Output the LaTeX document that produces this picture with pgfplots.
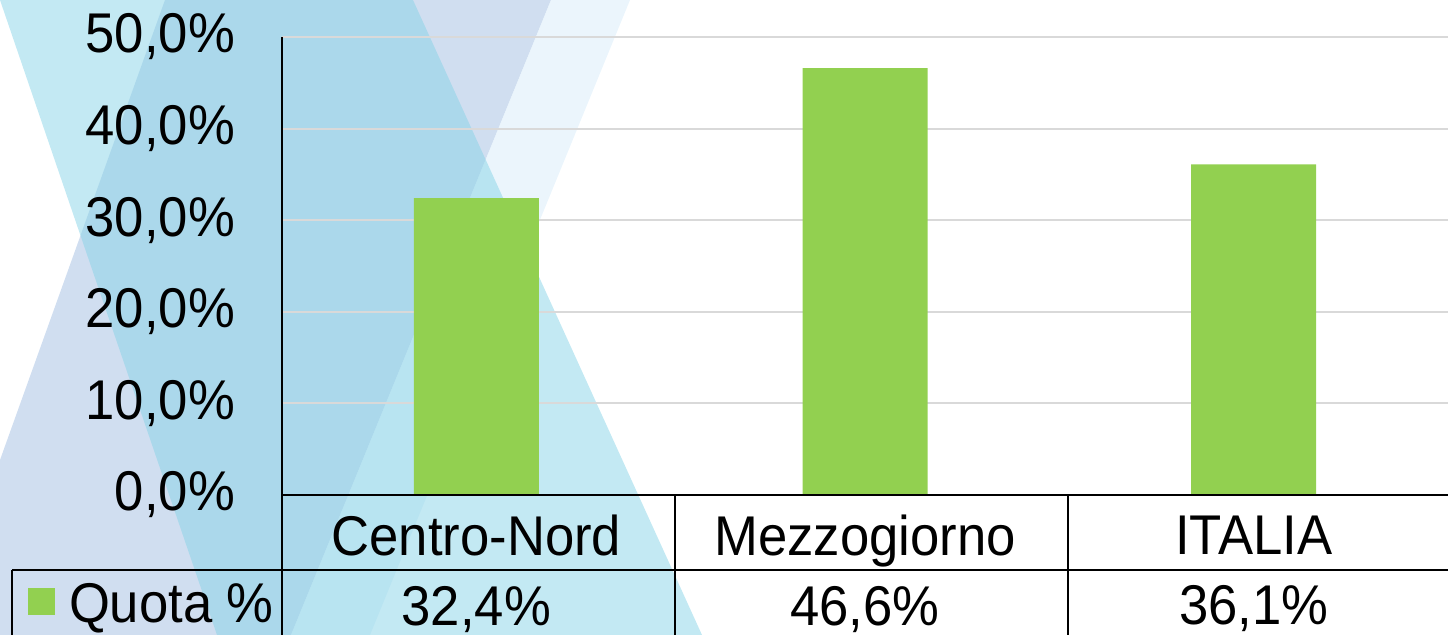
\documentclass[border=0pt]{standalone}
\usepackage{pgfplots}
\pgfplotsset{compat=1.18}
\usepackage{fontspec}
\setmainfont[FakeStretch=0.94]{Liberation Sans}
\definecolor{bargreen}{RGB}{146,208,80}
\definecolor{bandA}{RGB}{177,200,230}
\definecolor{bandB}{RGB}{135,211,231}
\definecolor{bandC}{RGB}{226,241,251}
\definecolor{gridgray}{RGB}{217,217,217}
\begin{document}
\begin{tikzpicture}
\useasboundingbox (0,0) rectangle (724pt,317.5pt);
% decorative background (pixel coordinates, y downwards)
\begin{scope}[x=0.5pt,y=-0.5pt,shift={(0pt,317.5pt)}]
  \fill[bandA,opacity=0.6] (165,0) -- (551,0) -- (291,635) -- (0,635) -- (0,460) -- cycle;
  \fill[bandC,opacity=0.7] (551,0) -- (630,0) -- (370,635) -- (291,635) -- cycle;
  \fill[bandB,opacity=0.5] (0,0) -- (413,0) -- (702,635) -- (217,635) -- cycle;
\end{scope}
\begin{axis}[
  at={(141pt,70pt)}, anchor=south west,
  scale only axis, width=583pt, height=229pt,
  xmin=-0.5, xmax=2.5, ymin=0, ymax=50,
  axis line style={draw=none},
  tick style={draw=none},
  ymajorgrids, grid style={gridgray, line width=1pt},
  ytick={0,10,20,30,40,50},
  yticklabels={{0,0\%},{10,0\%},{20,0\%},{30,0\%},{40,0\%},{50,0\%}},
  yticklabel style={font=\fontsize{28}{32}\selectfont, anchor=east, xshift=-20pt},
  xtick={0,1,2},
  xticklabels={{Centro-Nord\\32,4\%},{Mezzogiorno\\46,6\%},{ITALIA\\36,1\%}},
  xticklabel style={font=\fontsize{28}{35}\selectfont, align=center, anchor=center, yshift=-35pt},
  ybar, bar width=62.5pt,
]
\addplot[fill=bargreen, draw=none] coordinates {(0,32.4) (1,46.6) (2,36.1)};
\end{axis}
% data table lines and legend key
\begin{scope}[x=0.5pt,y=-0.5pt,shift={(0pt,317.5pt)}, line width=1pt]
  \draw (282,37) -- (282,640);
  \draw (282,495) -- (1460,495);
  \draw (12,570) -- (1460,570);
  \draw (675,495) -- (675,640);
  \draw (1068,495) -- (1068,640);
  \draw (12,570) -- (12,640);
  \fill[bargreen] (28,588) rectangle (55,615);
  \node[anchor=west, inner sep=0pt, font=\fontsize{28}{32}\selectfont] at (68,608) {Quota \%};
\end{scope}
\end{tikzpicture}
\end{document}
